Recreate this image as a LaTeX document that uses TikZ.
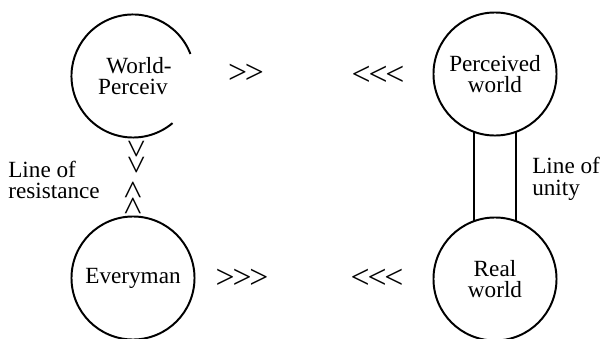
\documentclass[tikz,border=0pt]{standalone}
\usepackage{fontspec}
\setmainfont{Liberation Serif}
\usetikzlibrary{positioning}

\begin{document}
\begin{tikzpicture}[x=0.025cm,y=0.025cm,
    world/.style={circle,draw,line width=1.4pt,minimum size=3.075cm,inner sep=0pt,
      outer sep=0pt,align=center,font=\fontsize{16.5}{15.5}\selectfont},
    lbl/.style={align=left,inner sep=0pt,font=\fontsize{16.5}{15.5}\selectfont},
    chev/.style={inner sep=0pt,font=\fontsize{24}{24}\selectfont}]
    \useasboundingbox (0,0) rectangle (601,338);

    % Circles
    \node[world,draw=none] (wp) at (133,262) {\hspace*{0.3cm}World-\\Perceiv};
    \draw[line width=1.4pt] (wp.21) arc[start angle=21,end angle=310,radius=1.5375cm];
    \node[world] (ev) at (133,60) {Everyman};
    \node[world] (pw) at (495,264) {Perceived\\world};
    \node[world] (rw) at (495,59) {Real\\world};

    % Line of unity
    \draw[line width=1.4pt] (pw.250) -- (rw.110);
    \draw[line width=1.4pt] (pw.290) -- (rw.70);
    \node[lbl,anchor=west] (unity) at (532,159) {Line of\\unity};

    % Line of resistance
    \node[chev,rotate=-90] (down) at (135,181) {>\kern-2pt>};
    \node[chev,rotate=90] (up) at (135,140) {>\kern-2pt>};
    \node[lbl,anchor=west] (resist) at (8,158) {Line of\\resistance};

    % Chevrons between the worlds
    \node[chev] (topr) at (246,264) {>\kern-1.5pt>};
    \node[chev] (topl) at (378,262) {<\kern-1.5pt<\kern-1.5pt<};
    \node[chev] (botr) at (242,59) {>\kern-1.5pt>\kern-1.5pt>};
    \node[chev] (botl) at (377,59) {<\kern-1.5pt<\kern-1.5pt<};
\end{tikzpicture}
\end{document}
